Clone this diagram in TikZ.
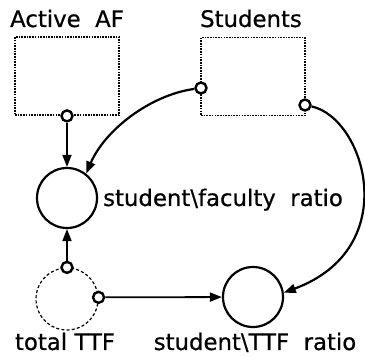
\documentclass[tikz,border=0pt]{standalone}
\usepackage{fontspec}
\setmainfont{DejaVu Sans}
\newfontfamily\lblfont{DejaVu Sans}[FakeBold=0.6]
\usetikzlibrary{arrows.meta}
\begin{document}
\begin{tikzpicture}[x=1pt,y=-1pt,
  lbl/.style={font=\lblfont\fontsize{22.8}{26}\selectfont, inner sep=0pt, anchor=base},
  stock/.style={draw, line width=1.8pt, dash pattern=on 1.6pt off 1.1pt, minimum width=104pt, minimum height=78pt, inner sep=0pt},
  aux/.style={draw, circle, line width=2.2pt, minimum size=60pt, inner sep=0pt},
  dashaux/.style={draw, circle, line width=1.2pt, dash pattern=on 3pt off 2.2pt, minimum size=62pt, inner sep=0pt},
  port/.style={draw, circle, fill=white, line width=2.4pt, minimum size=11pt, inner sep=0pt},
  conn/.style={line width=1.8pt, -{Triangle[length=12pt,width=9pt]}},
  curv/.style={line width=2.2pt, -{Triangle[length=12pt,width=9pt]}}
]
\useasboundingbox (0,0) rectangle (365,358);
% stocks
\node[stock] (af) at (67,76) {};
\node[stock] (st) at (253,76.5) {};
\node[lbl] (aflbl) at (67,27) {Active\ \ AF};
\node[lbl] (stlbl) at (251,27) {Students};
% auxiliaries
\node[aux] (fac) at (67,198) {};
\node[lbl, anchor=base west] (faclbl) at (103,206) {student\textbackslash faculty\ \ ratio};
\node[dashaux] (ttf) at (67,299) {};
\node[aux] (str) at (253,297) {};
\node[lbl] (ttflbl) at (65,350) {total TTF};
\node[lbl] (strlbl) at (255,350) {student\textbackslash TTF\ \ ratio};
% ports
\node[port] (afo) at (af.south) {};
\node[port] (sto1) at (201,88) {};
\node[port] (sto2) at (305,105) {};
\node[port] (ttfo1) at (ttf.90) {};
\node[port] (ttfo2) at (ttf.3) {};
% connectors
\draw[conn] (afo) -- (fac);
\draw[conn] (ttfo1) -- (fac);
\draw[conn] (ttfo2) -- (str);
\draw[curv] (sto1) .. controls (150,95) and (105,130) .. (fac.52);
\draw[curv] (sto2) .. controls (365,118) and (404,248) .. (str.8);
\end{tikzpicture}
\end{document}
